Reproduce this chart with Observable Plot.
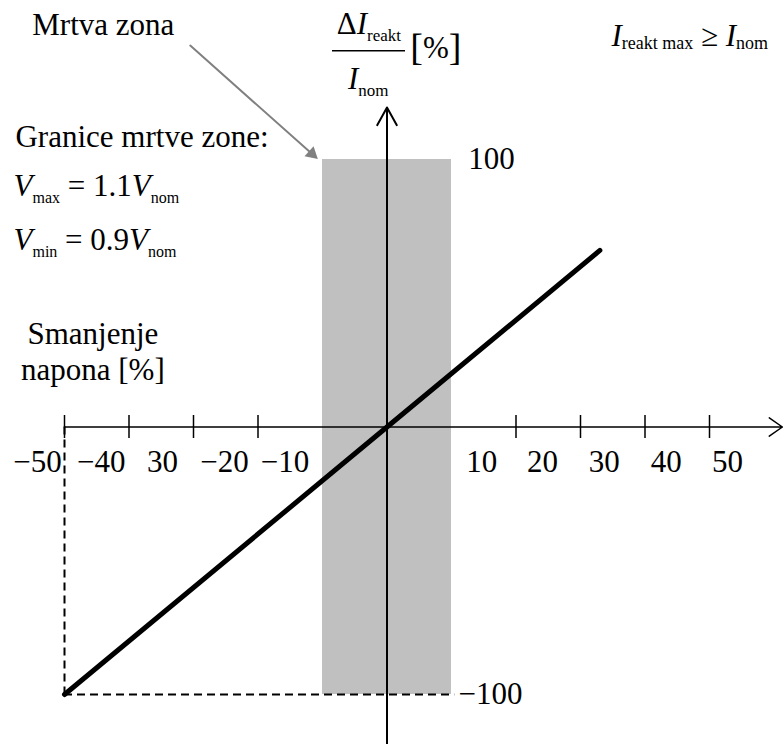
<!DOCTYPE html>
<html>
<head>
<meta charset="utf-8">
<script src="https://cdn.jsdelivr.net/npm/d3@7"></script>
<script src="https://cdn.jsdelivr.net/npm/@observablehq/plot@0.6"></script>
<style>
  html, body { margin: 0; padding: 0; background: #fff; }
</style>
</head>
<body>
<div id="chart"></div>
<script>
// Reactive current response vs. voltage drop (both in %)
const droopX = [-50, 0, 33];
const droopY = [-100, 0, 66];

// Dead band: ±10 % voltage, spanning ±100 % current
const deadBandX = [-10, 10];
const deadBandY = [-100, 100];

// Horizontal axis ticks and the printed labels beside them
const xTicks = [-50, -40, -30, -20, 20, 30, 40, 50];
const xTickLabels = ["−50", "−40", "30", "−20", "−10", "10", "20", "30", "40", "50"];
const xTickLabelPos = [-54.2, -44.3, -34.8, -25.2, -15.8, 14.7, 24.1, 33.7, 43.3, 52.8];

// Vertical axis labels
const yTickLabels = ["100", "−100"];
const yTickValues = [100, -100];
const yTickLabelPos = [12.6, 11.1];

// Free text (markup: *italic*, _size,shift{subscript}, !{large})
const noteText = [
  "Mrtva zona",
  "Granice mrtve zone:",
  "*V*_16,7{max} = 1.1*V*_16,7{nom}",
  "*V*_16,7{min} = 0.9*V*_16,7{nom}",
  "Smanjenje",
  "napona [%]",
  "*I*_18,3{reakt max} ≥ *I*_18,3{nom}",
  "Δ*I*_17,7{reakt}",
  "*I*_17,7{nom}",
  "!{[}%!{]}"
];
const noteX = [-55.0, -57.6, -57.9, -57.9, -45.6, -45.6, 34.8, -2.8, -2.9, 3.6];
const noteY = [146.4, 104.5, 86.2, 66.0, 31.2, 17.4, 142.6, 147.1, 126.5, 138.1];
const noteAnchor = ["start", "start", "start", "start", "middle", "middle", "start", "middle", "middle", "start"];

// Fraction bar of the vertical axis title
const fracBarX = [-8.45, 2.87];
const fracBarY = 140.7;

// Pointer from the "Mrtva zona" note to the dead band
const pointerFrom = [-30.5, 142.6];
const pointerTo = [-10.47, 99.6];

const notes = noteText.map((t, i) => ({text: t, x: noteX[i], y: noteY[i], anchor: noteAnchor[i]}));
const droop = droopX.map((x, i) => ({x, y: droopY[i]}));

const serif = "'Liberation Serif', 'Times New Roman', serif";

const noteMark = (anchor) => Plot.text(notes.filter(d => d.anchor === anchor),
  {x: "x", y: "y", text: "text", textAnchor: anchor, lineAnchor: "bottom", fontSize: 31, fill: "#000"});

const chart = Plot.plot({
  width: 783,
  height: 744,
  x: {domain: [-50, 50], range: [64, 709], axis: null},
  y: {domain: [-100, 100], range: [694, 159], axis: null},
  style: {fontFamily: serif, fontSize: "31px", background: "#fff", color: "#000"},
  marks: [
    // dead band
    Plot.rect([{x1: deadBandX[0], x2: deadBandX[1], y1: deadBandY[0], y2: deadBandY[1]}],
      {x1: "x1", x2: "x2", y1: "y1", y2: "y2", fill: "#c0c0c0"}),
    // guides to the end of the characteristic
    Plot.ruleX([droopX[0]], {y1: 0, y2: droopY[0], stroke: "#000", strokeWidth: 2, strokeDasharray: "8,5"}),
    Plot.ruleY([droopY[0]], {x1: droopX[0], x2: 10.5, stroke: "#000", strokeWidth: 2, strokeDasharray: "8,5"}),
    // horizontal axis with arrow
    Plot.arrow([{x1: -50, x2: 61.3, y: 0}], {x1: "x1", x2: "x2", y1: "y", y2: "y",
      stroke: "#000", strokeWidth: 1.5, headLength: 16, headAngle: 70}),
    Plot.ruleX(xTicks, {y1: -4.3, y2: 4.3, stroke: "#000", strokeWidth: 1.5}),
    // vertical axis with arrow
    Plot.arrow([{x: 0, y1: -120, y2: 119.4}], {x1: "x", x2: "x", y1: "y1", y2: "y2",
      stroke: "#000", strokeWidth: 2, headLength: 15, headAngle: 58}),
    // characteristic
    Plot.line(droop, {x: "x", y: "y", stroke: "#000", strokeWidth: 5}),
    // tick labels
    Plot.text(xTickLabels, {x: (d, i) => xTickLabelPos[i], y: -17, text: d => d,
      lineAnchor: "bottom", textAnchor: "middle", fontSize: 31, fill: "#000"}),
    Plot.text(yTickLabels, {x: (d, i) => yTickLabelPos[i], y: (d, i) => yTickValues[i], text: d => d,
      lineAnchor: "middle", textAnchor: "start", fontSize: 31, fill: "#000"}),
    // pointer
    Plot.arrow([{x1: pointerFrom[0], y1: pointerFrom[1], x2: pointerTo[0], y2: pointerTo[1]}],
      {x1: "x1", y1: "y1", x2: "x2", y2: "y2", stroke: "#808080", strokeWidth: 2, headLength: 0, insetEnd: 9}),
    Plot.dot([{x: pointerTo[0], y: pointerTo[1]}], {x: "x", y: "y", symbol: "triangle2", r: 6.5,
      rotate: 131.7, dx: -7.5, dy: -6.7, fill: "#808080", stroke: "none"}),
    // fraction bar
    Plot.ruleY([fracBarY], {x1: fracBarX[0], x2: fracBarX[1], stroke: "#000", strokeWidth: 1.5}),
    // notes
    noteMark("start"),
    noteMark("middle")
  ]
});

// Turn the small markup in the notes into styled tspans
const tokenRe = /\*([^*]+)\*|_(\d+),(\d+)\{([^}]*)\}|!\{([^}]*)\}|([^*_!]+)/g;
d3.select(chart).selectAll("text").each(function () {
  const raw = this.textContent;
  if (!/[*!]|_\d/.test(raw)) return;
  const el = d3.select(this);
  el.text(null);
  let shift = 0;
  for (const m of raw.matchAll(tokenRe)) {
    const t = el.append("tspan");
    let target = 0;
    if (m[1] != null) {
      t.text(m[1]).attr("font-style", "italic");
    } else if (m[4] != null) {
      t.text(m[4]).attr("font-size", m[2] + "px");
      target = +m[3];
    } else if (m[5] != null) {
      t.text(m[5]).attr("font-size", "38px");
      target = 2;
    } else {
      t.text(m[6]);
    }
    if (target !== shift) { t.attr("dy", target - shift); shift = target; }
  }
});

document.getElementById("chart").append(chart);
</script>
</body>
</html>
